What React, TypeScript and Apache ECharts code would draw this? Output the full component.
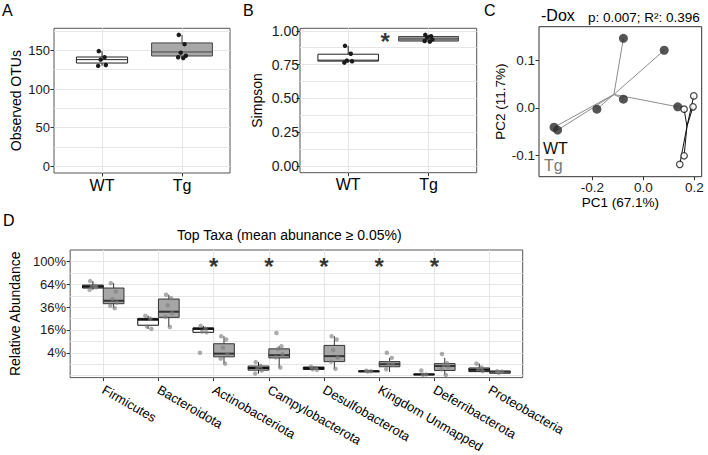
import React, { useEffect, useRef } from "react";
import * as echarts from "echarts";

const FONT = "'Liberation Sans', Arial, Helvetica, sans-serif";

// ---------------- Panel A : Observed OTUs ----------------
const groupLabels = ["WT", "Tg"];
// [low whisker, q1, median, q3, high whisker]
const otuBoxWT = [130, 133.6, 138, 141.4, 149];
const otuBoxTg = [140, 142.7, 147.9, 159.6, 170];
const otuPointsWT = [149, 141, 138, 131, 130];
const otuPointsTg = [170, 158, 147, 143, 141, 140];
const otuTicks = [0, 50, 100, 150];
const otuGridValues = [0, 25, 50, 75, 100, 125, 150, 175];

// ---------------- Panel B : Simpson ----------------
const simpsonBoxWT = [0.765, 0.776, 0.783, 0.827, 0.889];
const simpsonBoxTg = [0.92, 0.924, 0.94, 0.958, 0.97];
const simpsonPointsWT = [0.889, 0.83, 0.78, 0.775, 0.765];
const simpsonPointsTg = [0.97, 0.96, 0.95, 0.935, 0.925, 0.92];
const simpsonTicks = [0, 0.25, 0.5, 0.75, 1];
const simpsonGridValues = [0, 0.125, 0.25, 0.375, 0.5, 0.625, 0.75, 0.875, 1];

// ---------------- Panel C : PCoA ----------------
const pcoaFilled = [
  [-0.078, 0.146],
  [0.082, 0.121],
  [-0.078, 0.018],
  [-0.182, -0.003],
  [0.135, 0.002],
  [-0.35, -0.041],
  [-0.336, -0.047],
];
const pcoaOpen = [
  [0.198, 0.025],
  [0.195, 0.002],
  [0.16, -0.003],
  [0.16, -0.101],
  [0.143, -0.119],
];
const pcoaXTicks = [-0.2, 0, 0.2];
const pcoaYTicks = [-0.1, 0, 0.1];

// ---------------- Panel D : Top taxa (percent) ----------------
const taxa = [
  "Firmicutes",
  "Bacteroidota",
  "Actinobacteriota",
  "Campylobacterota",
  "Desulfobacterota",
  "Kingdom Unmapped",
  "Deferribacterota",
  "Proteobacteria",
];
const taxaBoxWT = [
  [56.7, 59, 61, 63, 68.7],
  [16.8, 19.5, 24.1, 25.2, 27.6],
  [14.4, 14.4, 16.8, 17.5, 19],
  [0.03, 0.23, 0.43, 0.69, 1.4],
  [0.25, 0.29, 0.44, 0.55, 0.6],
  [0.1, 0.12, 0.14, 0.16, 0.2],
  [0, 0.005, 0.01, 0.015, 0.02],
  [0.1, 0.12, 0.26, 0.44, 1.1],
];
const taxaBoxTg = [
  [35, 39.8, 43.1, 59, 65.8],
  [18.2, 26.1, 31.4, 45.1, 50.3],
  [1.1, 2.7, 3.7, 7.8, 11.9],
  [0.5, 2.4, 3.2, 5.5, 6.6],
  [0.36, 1.5, 2.9, 7, 11.9],
  [0.1, 0.6, 1.0, 1.5, 2.4],
  [0.002, 0.2, 0.7, 1.1, 2.4],
  [0.04, 0.04, 0.12, 0.15, 0.15],
];
const taxaPointsWT = [
  [68.7, 62, 61, 60, 56.7],
  [27.6, 25, 18.5, 16.8],
  [19, 17, 15, 14.4, 4],
  [1.4, 0.7, 0.4, 0.2, 0.03],
  [0.6, 0.45, 0.3, 0.25],
  [0.18, 0.14, 0.12],
  [0.2, 0.01, 0.005],
  [1.1, 0.5, 0.3, 0.15],
];
const taxaPointsTg = [
  [65.8, 54.5, 45, 41, 37.5, 35],
  [50.3, 46, 38, 30, 26.5, 18.2],
  [11.9, 10, 6, 3.5, 2.2, 1.1],
  [14, 6.6, 5.5, 3.5, 2.6, 0.5],
  [11.9, 10, 5, 2.5, 1.5, 0.36],
  [4, 2.4, 1.2, 0.9, 0.3],
  [3.6, 1.2, 0.9, 0.6, 0.3, 0.002],
  [0.15, 0.12, 0.06],
];
const significantTaxa = [
  "Actinobacteriota",
  "Campylobacterota",
  "Desulfobacterota",
  "Kingdom Unmapped",
  "Deferribacterota",
];
const abundanceTicks = [4, 16, 36, 64, 100];
const abundanceGridValues = [0, 1, 4, 9, 16, 25, 36, 49, 64, 81, 100];

// small horizontal jitter pattern for points (x units)
const jitterPattern = [-0.05, 0.04, -0.02, 0.06, -0.06, 0.02, 0.0];

const GRID_COLOR = "#e6e6e6";
const BORDER_COLOR = "#555555";

const sq = (p: number) => Math.sqrt(p / 100);

function boxSeries(
  xAxisIndex: number,
  yAxisIndex: number,
  stats: number[][],
  offset: number,
  halfWidths: number[],
  fills: string[],
  strokes: string[],
  medianWidth: number,
  z = 2
) {
  return {
    type: "custom",
    xAxisIndex,
    yAxisIndex,
    z,
    silent: true,
    data: stats.map((s, i) => [i + 1, s[0], s[1], s[2], s[3], s[4], halfWidths[i], i]),
    encode: { x: 0, y: [1, 2, 3, 4, 5] },
    renderItem: (params: any, api: any) => {
      const x = api.value(0) + offset;
      const hw = api.value(6);
      const k = api.value(7);
      const fill = fills[k % fills.length];
      const stroke = strokes[k % strokes.length];
      const pLow = api.coord([x, api.value(1)]);
      const pQ1 = api.coord([x, api.value(2)]);
      const pMed = api.coord([x, api.value(3)]);
      const pQ3 = api.coord([x, api.value(4)]);
      const pHigh = api.coord([x, api.value(5)]);
      const xl = api.coord([x - hw, api.value(3)])[0];
      const xr = api.coord([x + hw, api.value(3)])[0];
      return {
        type: "group",
        children: [
          {
            type: "line",
            shape: { x1: pLow[0], y1: pLow[1], x2: pQ1[0], y2: pQ1[1] },
            style: { stroke, lineWidth: 1 },
          },
          {
            type: "line",
            shape: { x1: pQ3[0], y1: pQ3[1], x2: pHigh[0], y2: pHigh[1] },
            style: { stroke, lineWidth: 1 },
          },
          {
            type: "rect",
            shape: {
              x: xl,
              y: pQ3[1],
              width: xr - xl,
              height: Math.max(pQ1[1] - pQ3[1], 0.5),
            },
            style: { fill, stroke, lineWidth: 1 },
          },
          {
            type: "line",
            shape: { x1: xl, y1: pMed[1], x2: xr, y2: pMed[1] },
            style: { stroke, lineWidth: medianWidth },
          },
        ],
      };
    },
  };
}

function pointSeries(
  xAxisIndex: number,
  yAxisIndex: number,
  x: number,
  values: number[],
  color: string,
  size: number,
  opacity: number,
  jitterScale: number
) {
  return {
    type: "scatter",
    xAxisIndex,
    yAxisIndex,
    z: 5,
    silent: true,
    symbolSize: size,
    itemStyle: { color, opacity },
    data: values.map((v, i) => [x + jitterPattern[i % jitterPattern.length] * jitterScale, v]),
  };
}

const axisLabelBase = { color: "#1a1a1a", fontFamily: FONT };
const noLine = { show: false, onZero: false };

export default function App() {
  const ref = useRef<HTMLDivElement>(null);

  useEffect(() => {
    if (!ref.current) return;
    const chart = echarts.init(ref.current, undefined, { renderer: "svg" });

    const meanOf = (pts: number[][]) => [
      pts.reduce((a, p) => a + p[0], 0) / pts.length,
      pts.reduce((a, p) => a + p[1], 0) / pts.length,
    ];
    const cFilled = meanOf(pcoaFilled);
    const cOpen = meanOf(pcoaOpen);

    const catX = [1, 2];
    const taxaX = taxa.map((_, i) => i + 1);

    const gridLineAxis = (gridIndex: number, min: number, max: number, values: number[]) => ({
      type: "value",
      gridIndex,
      min,
      max,
      position: "left",
      axisLine: noLine,
      axisTick: { show: false, customValues: values },
      axisLabel: { show: false, customValues: values },
      splitLine: { show: true, lineStyle: { color: GRID_COLOR, width: 1 } },
    });

    const option: any = {
      animation: false,
      textStyle: { fontFamily: FONT },
      grid: [
        { left: 54, top: 28.3, width: 176, height: 144.7, show: true, borderColor: BORDER_COLOR, borderWidth: 1, backgroundColor: "#fff", containLabel: false },
        { left: 300, top: 28.3, width: 176.7, height: 144.4, show: true, borderColor: BORDER_COLOR, borderWidth: 1, backgroundColor: "#fff", containLabel: false },
        { left: 539, top: 26.7, width: 162.7, height: 150, show: true, borderColor: "#333", borderWidth: 1, backgroundColor: "#fff", containLabel: false },
        { left: 68.3, top: 250, width: 454.4, height: 128.3, show: true, borderColor: BORDER_COLOR, borderWidth: 1, backgroundColor: "#fff", containLabel: false },
      ],
      xAxis: [
        {
          type: "value", gridIndex: 0, min: 0.4, max: 2.6, position: "bottom",
          axisLine: noLine,
          axisTick: { show: true, customValues: catX, length: 3.5, lineStyle: { color: "#333" } },
          axisLabel: { ...axisLabelBase, customValues: catX, fontSize: 16, color: "#000", margin: 4, formatter: (v: number) => groupLabels[Math.round(v) - 1] },
          splitLine: { show: true, lineStyle: { color: GRID_COLOR } },
        },
        {
          type: "value", gridIndex: 1, min: 0.4, max: 2.6, position: "bottom",
          axisLine: noLine,
          axisTick: { show: true, customValues: catX, length: 3.5, lineStyle: { color: "#333" } },
          axisLabel: { ...axisLabelBase, customValues: catX, fontSize: 16, color: "#000", margin: 4, formatter: (v: number) => groupLabels[Math.round(v) - 1] },
          splitLine: { show: true, lineStyle: { color: GRID_COLOR } },
        },
        {
          type: "value", gridIndex: 2, min: -0.409, max: 0.229, position: "bottom",
          axisLine: noLine,
          axisTick: { show: true, customValues: pcoaXTicks, length: 3.5, lineStyle: { color: "#333" } },
          axisLabel: { ...axisLabelBase, customValues: pcoaXTicks, fontSize: 13.5, margin: 4, formatter: (v: number) => v.toFixed(1) },
          splitLine: { show: false },
          name: "PC1 (67.1%)",
          nameLocation: "middle",
          nameGap: 19,
          nameTextStyle: { fontSize: 13.5, color: "#000", fontFamily: FONT },
        },
        {
          type: "value", gridIndex: 3, min: 0.4, max: 8.6, position: "bottom",
          axisLine: noLine,
          axisTick: { show: true, customValues: taxaX, length: 3.5, lineStyle: { color: "#333" } },
          axisLabel: { ...axisLabelBase, customValues: taxaX, fontSize: 13, color: "#000", margin: 11, rotate: -30, formatter: (v: number) => taxa[Math.round(v) - 1] },
          splitLine: { show: true, lineStyle: { color: GRID_COLOR } },
        },
      ],
      yAxis: [
        gridLineAxis(0, -8.5, 178.5, otuGridValues),
        {
          type: "value", gridIndex: 0, min: -8.5, max: 178.5, position: "left",
          axisLine: noLine,
          axisTick: { show: true, customValues: otuTicks, length: 3.5, lineStyle: { color: "#333" } },
          axisLabel: { ...axisLabelBase, customValues: otuTicks, fontSize: 13, margin: 4 },
          splitLine: { show: false },
          name: "Observed OTUs", nameLocation: "middle", nameGap: 31,
          nameTextStyle: { fontSize: 14, color: "#000", fontFamily: FONT },
        },
        gridLineAxis(1, -0.0485, 1.0185, simpsonGridValues),
        {
          type: "value", gridIndex: 1, min: -0.0485, max: 1.0185, position: "left",
          axisLine: noLine,
          axisTick: { show: true, customValues: simpsonTicks, length: 3.5, lineStyle: { color: "#333" } },
          axisLabel: { ...axisLabelBase, customValues: simpsonTicks, fontSize: 14, margin: 1, formatter: (v: number) => v.toFixed(2) },
          splitLine: { show: false },
          name: "Simpson", nameLocation: "middle", nameGap: 36,
          nameTextStyle: { fontSize: 14, color: "#000", fontFamily: FONT },
        },
        {
          type: "value", gridIndex: 2, min: -0.145, max: 0.1705, position: "left",
          axisLine: noLine,
          axisTick: { show: true, customValues: pcoaYTicks, length: 3.5, lineStyle: { color: "#333" } },
          axisLabel: { ...axisLabelBase, customValues: pcoaYTicks, fontSize: 13.5, margin: 4, formatter: (v: number) => v.toFixed(1) },
          splitLine: { show: false },
          name: "PC2 (11.7%)", nameLocation: "middle", nameGap: 31,
          nameTextStyle: { fontSize: 13.5, color: "#000", fontFamily: FONT },
        },
        gridLineAxis(3, -0.018, 1.102, abundanceGridValues.map(sq)),
        {
          type: "value", gridIndex: 3, min: -0.018, max: 1.102, position: "left",
          axisLine: noLine,
          axisTick: { show: true, customValues: abundanceTicks.map(sq), length: 3.5, lineStyle: { color: "#333" } },
          axisLabel: { ...axisLabelBase, customValues: abundanceTicks.map(sq), fontSize: 13, margin: 4, formatter: (v: number) => Math.round(v * v * 100) + "%" },
          splitLine: { show: false },
          name: "Relative Abundance", nameLocation: "middle", nameGap: 38,
          nameTextStyle: { fontSize: 14, color: "#000", fontFamily: FONT },
        },
      ],
      series: [
        // Panel A
        boxSeries(0, 1, [otuBoxWT, otuBoxTg], 0, [0.32, 0.38], ["#fff", "#a8a8a8"], ["#222", "#444"], 1),
        pointSeries(0, 1, 1, otuPointsWT, "#1a1a1a", 4.5, 1, 0.8),
        pointSeries(0, 1, 2, otuPointsTg, "#1a1a1a", 4.5, 1, 0.8),
        // Panel B
        boxSeries(1, 3, [simpsonBoxWT, simpsonBoxTg], 0, [0.377, 0.372], ["#fff", "#999999"], ["#222", "#444"], 1),
        pointSeries(1, 3, 1, simpsonPointsWT, "#1a1a1a", 4.5, 1, 0.8),
        pointSeries(1, 3, 2, simpsonPointsTg, "#1a1a1a", 4.5, 1, 0.8),
        {
          type: "scatter", xAxisIndex: 1, yAxisIndex: 3, silent: true, symbolSize: 1,
          itemStyle: { color: "transparent" },
          label: { show: true, position: "inside", formatter: "*", fontSize: 24, fontWeight: "bold", color: "#000", fontFamily: FONT, offset: [0, 5] },
          data: [[1.46, 0.96]],
        },
        // Panel C
        {
          type: "lines", coordinateSystem: "cartesian2d", xAxisIndex: 2, yAxisIndex: 4, silent: true, z: 2,
          lineStyle: { color: "#8c8c8c", width: 1, opacity: 1 },
          data: pcoaFilled.map((p) => ({ coords: [p, cFilled] })),
        },
        {
          type: "lines", coordinateSystem: "cartesian2d", xAxisIndex: 2, yAxisIndex: 4, silent: true, z: 2,
          lineStyle: { color: "#111", width: 1, opacity: 1 },
          data: pcoaOpen.map((p) => ({ coords: [p, cOpen] })),
        },
        {
          type: "scatter", xAxisIndex: 2, yAxisIndex: 4, silent: true, z: 4,
          symbolSize: 9, itemStyle: { color: "#2a2a2a" },
          data: pcoaFilled,
        },
        {
          type: "scatter", xAxisIndex: 2, yAxisIndex: 4, silent: true, z: 4,
          symbolSize: 6.5, itemStyle: { color: "#fff", borderColor: "#111", borderWidth: 1.2 },
          data: pcoaOpen,
        },
        // Panel D
        boxSeries(3, 6, taxaBoxWT.map((s) => s.map(sq)), -0.1875, taxa.map(() => 0.1875), ["#fff"], ["#111"], 2.2),
        boxSeries(3, 6, taxaBoxTg.map((s) => s.map(sq)), 0.1875, taxa.map(() => 0.1875), ["#a6a6a6"], ["#333"], 2),
        ...taxaPointsWT.map((pts, i) => pointSeries(3, 6, i + 1 - 0.1875, pts.map(sq), "#7f7f7f", 4.5, 0.65, 1)),
        ...taxaPointsTg.map((pts, i) => pointSeries(3, 6, i + 1 + 0.1875, pts.map(sq), "#7f7f7f", 4.5, 0.65, 1)),
        {
          type: "scatter", xAxisIndex: 3, yAxisIndex: 6, silent: true, symbolSize: 1,
          itemStyle: { color: "transparent" },
          label: { show: true, position: "inside", formatter: "*", fontSize: 24, fontWeight: "bold", color: "#000", fontFamily: FONT, offset: [0, 5] },
          data: significantTaxa.map((t) => [taxa.indexOf(t) + 1, 1.0]),
        },
      ],
      graphic: [
        { type: "text", left: 2, top: 2, style: { text: "A", font: `16px ${FONT}`, fill: "#000" } },
        { type: "text", left: 243, top: 2, style: { text: "B", font: `16px ${FONT}`, fill: "#000" } },
        { type: "text", left: 484, top: 2, style: { text: "C", font: `16px ${FONT}`, fill: "#000" } },
        { type: "text", left: 3, top: 212, style: { text: "D", font: `16px ${FONT}`, fill: "#000" } },
        { type: "text", left: 541, top: 7, style: { text: "-Dox", font: `16px ${FONT}`, fill: "#000" } },
        { type: "text", left: 588, top: 10, style: { text: "p: 0.007; R²: 0.396", font: `13.5px ${FONT}`, fill: "#000" } },
        { type: "text", left: 543, top: 140, style: { text: "WT", font: `16px ${FONT}`, fill: "#111", lineHeight: 16 } },
        { type: "text", left: 544, top: 157, style: { text: "Tg", font: `16px ${FONT}`, fill: "#777", lineHeight: 16 } },
        { type: "text", left: 177, top: 228, style: { text: "Top Taxa (mean abunance ≥ 0.05%)", font: `14px ${FONT}`, fill: "#000" } },
      ],
    };

    chart.setOption(option);
    return () => chart.dispose();
  }, []);

  return (
    <div
      ref={ref}
      style={{ position: "fixed", left: 0, top: 0, width: 708, height: 455, background: "#fff" }}
    />
  );
}
